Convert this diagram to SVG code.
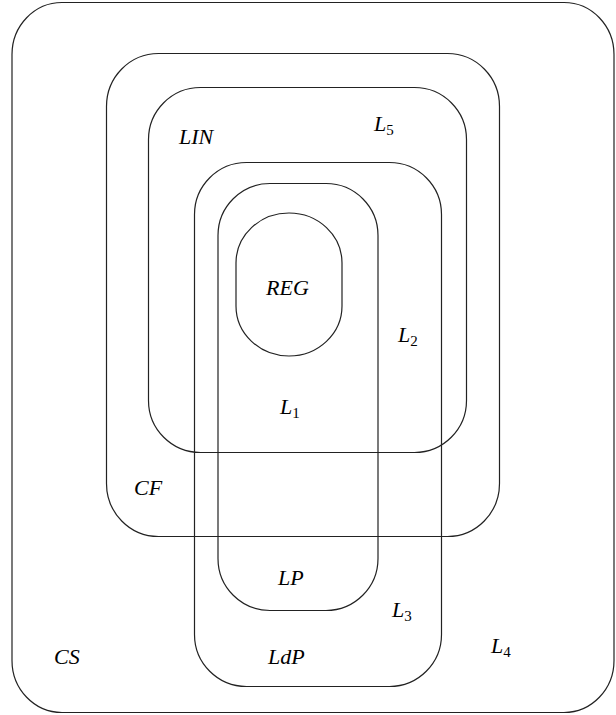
<svg xmlns="http://www.w3.org/2000/svg" width="616" height="715" viewBox="0 0 616 715">
<style>
.s{fill:none;stroke:#222;stroke-width:1.2}
.t{font-family:"Liberation Serif","DejaVu Serif",serif;font-style:italic;font-size:22px;fill:#000}
.sub{font-size:15px;font-style:normal}
</style>
<rect width="616" height="715" fill="#fff"/>
<g id="CS"><rect class="s" x="12" y="2.5" width="602" height="710" rx="50" ry="52"/><text class="t" x="54" y="664">CS</text></g>
<g id="CF"><rect class="s" x="106.5" y="53.5" width="393" height="483" rx="52" ry="53"/><text class="t" x="134" y="495">CF</text></g>
<g id="LIN"><rect class="s" x="148.5" y="87.5" width="318" height="365" rx="52" ry="52"/><text class="t" x="179" y="144">LIN</text></g>
<g id="L5"><text class="t" x="374" y="131">L<tspan class="sub" dy="4">5</tspan></text></g>
<g id="LdP"><rect class="s" x="194.5" y="162.5" width="247" height="524" rx="52" ry="52"/><text class="t" x="268" y="664">LdP</text></g>
<g id="LP"><rect class="s" x="218" y="183.5" width="160" height="427" rx="52" ry="52"/><text class="t" x="278" y="585">LP</text></g>
<g id="REG"><rect class="s" x="236" y="213" width="106" height="143" rx="53" ry="50"/><text class="t" x="266" y="295">REG</text></g>
<g id="L1"><text class="t" x="280" y="414">L<tspan class="sub" dy="4">1</tspan></text></g>
<g id="L2"><text class="t" x="398" y="342">L<tspan class="sub" dy="4">2</tspan></text></g>
<g id="L3"><text class="t" x="392" y="617">L<tspan class="sub" dy="4">3</tspan></text></g>
<g id="L4"><text class="t" x="491" y="653">L<tspan class="sub" dy="4">4</tspan></text></g>
<g id="connectors"></g>
</svg>
